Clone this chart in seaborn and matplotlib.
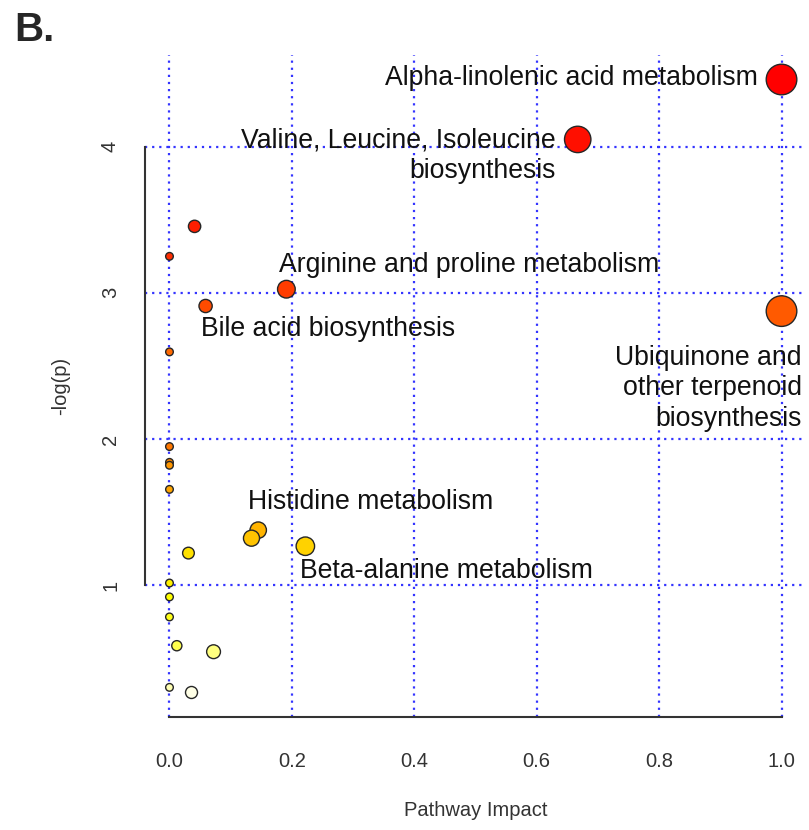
import numpy as np
import pandas as pd
import matplotlib
matplotlib.use("Agg")
import matplotlib.pyplot as plt
import seaborn as sns
from matplotlib.colors import hsv_to_rgb

# Pathway topology results, ordered by decreasing -log(p)
impact = [1.0, 0.667, 0.041, 0.0, 0.191, 0.059, 1.0, 0.0, 0.0, 0.0, 0.0, 0.0,
          0.145, 0.134, 0.222, 0.031, 0.0, 0.0, 0.0, 0.012, 0.072, 0.0, 0.036]
neglogp = [4.46, 4.05, 3.455, 3.25, 3.025, 2.91, 2.875, 2.596, 1.948, 1.84, 1.82, 1.655,
           1.376, 1.321, 1.266, 1.219, 1.014, 0.919, 0.782, 0.585, 0.544, 0.30, 0.265]
pathway = ["Alpha-linolenic acid metabolism",
           "Valine, Leucine, Isoleucine\nbiosynthesis",
           "", "",
           "Arginine and proline metabolism",
           "Bile acid biosynthesis",
           "Ubiquinone and\nother terpenoid\nbiosynthesis",
           "", "", "", "", "",
           "Histidine metabolism", "",
           "Beta-alanine metabolism",
           "", "", "", "", "", "", "", ""]

# label placement (offset in pixels from the circle centre, horizontal alignment)
label_offset = {
    "Alpha-linolenic acid metabolism": (-24, 2, "right"),
    "Valine, Leucine, Isoleucine\nbiosynthesis": (-22, -16, "right"),
    "Arginine and proline metabolism": (-7, 24, "left"),
    "Bile acid biosynthesis": (-5, -23, "left"),
    "Ubiquinone and\nother terpenoid\nbiosynthesis": (20, -77, "right"),
    "Histidine metabolism": (-10, 28, "left"),
    "Beta-alanine metabolism": (-5, -25, "left"),
}


def heat_colors(n):
    """R's heat.colors(n): red -> yellow, then fading yellow -> white."""
    j = n // 4
    i = n - j
    cols = [hsv_to_rgb((h, 1.0, 1.0)) for h in np.linspace(0, 1 / 6, i)]
    if j > 0:
        sats = np.linspace(1 - 1 / (2 * j), 1 / (2 * j), j)
        cols += [hsv_to_rgb((1 / 6, s, 1.0)) for s in sats]
    return cols


df = pd.DataFrame({"impact": impact, "neglogp": neglogp, "pathway": pathway})
df["rank"] = [str(k) for k in range(len(df))]
palette = heat_colors(len(df))

# circle radius (in x-axis units) grows with sqrt(impact)
sqx = np.sqrt(df["impact"].to_numpy())
max_r = (sqx.max() - sqx.min()) / 40
min_r = (sqx.max() - sqx.min()) / 160
radius = min_r + (max_r - min_r) * (sqx - sqx.min()) / (sqx.max() - sqx.min())

sns.set_style("white")
plt.rcParams["font.family"] = ["Liberation Sans", "DejaVu Sans"]

W, H, DPI = 809, 830, 100
fig = plt.figure(figsize=(W / DPI, H / DPI), dpi=DPI)
ax = fig.add_axes([145 / W, 1 - 717 / H, 661 / W, 662 / H])

# axis ranges padded by 4% like R
xr = df["impact"].max() - df["impact"].min()
yr = df["neglogp"].max() - df["neglogp"].min()
xlim = (df["impact"].min() - 0.04 * xr, df["impact"].max() + 0.04 * xr)
ylim = (df["neglogp"].min() - 0.04 * yr, df["neglogp"].max() + 0.04 * yr)
ax.set_xlim(*xlim)
ax.set_ylim(*ylim)

xticks = [0.0, 0.2, 0.4, 0.6, 0.8, 1.0]
yticks = [1, 2, 3, 4]
grid_kw = dict(color="#3434ff", lw=1.6, linestyle=(0, (1, 2.2)), zorder=0)
for xv in xticks:
    ax.axvline(xv, **grid_kw)
for yv in yticks:
    ax.axhline(yv, **grid_kw)

px_per_x = (ax.get_position().width * W) / (xlim[1] - xlim[0])
diam_pt = 2 * radius * px_per_x * 72 / DPI
sizes = diam_pt ** 2

sns.scatterplot(data=df, x="impact", y="neglogp", hue="rank", hue_order=list(df["rank"]),
                palette=palette, s=sizes, edgecolor="#262626", linewidth=1.0,
                legend=False, ax=ax, zorder=3, clip_on=False)

for _, row in df.iterrows():
    if row["pathway"]:
        dx, dy, ha = label_offset[row["pathway"]]
        ax.annotate(row["pathway"], xy=(row["impact"], row["neglogp"]),
                    xytext=(dx, dy), textcoords="offset pixels",
                    ha=ha, va="center", fontsize=19.2, color="#111111",
                    linespacing=1.22, zorder=4, annotation_clip=False)

# R-style axes: only left and bottom, spanning the tick range
for side in ["top", "right"]:
    ax.spines[side].set_visible(False)
ax.spines["left"].set_bounds(yticks[0], yticks[-1])
ax.spines["bottom"].set_bounds(xticks[0], xticks[-1])
for side in ["left", "bottom"]:
    ax.spines[side].set_color("#333333")
    ax.spines[side].set_linewidth(1.5)

ax.set_xticks(xticks)
ax.set_xticklabels([f"{v:.1f}" for v in xticks])
ax.set_yticks(yticks)
ax.set_yticklabels([str(v) for v in yticks], rotation=90, va="center")
ax.tick_params(axis="both", length=10, width=1.5, color="#333333",
               labelsize=14.5, labelcolor="#333333")
ax.tick_params(axis="x", pad=15)
ax.tick_params(axis="y", pad=8)

ax.set_xlabel("Pathway Impact", fontsize=14.5, color="#333333", labelpad=22)
ax.set_ylabel("-log(p)", fontsize=14.5, color="#333333", labelpad=22)

fig.text(14 / W, 1 - 11 / H, "B.", fontsize=29, fontweight="bold", ha="left", va="top")

fig.savefig("out.png", dpi=DPI)
